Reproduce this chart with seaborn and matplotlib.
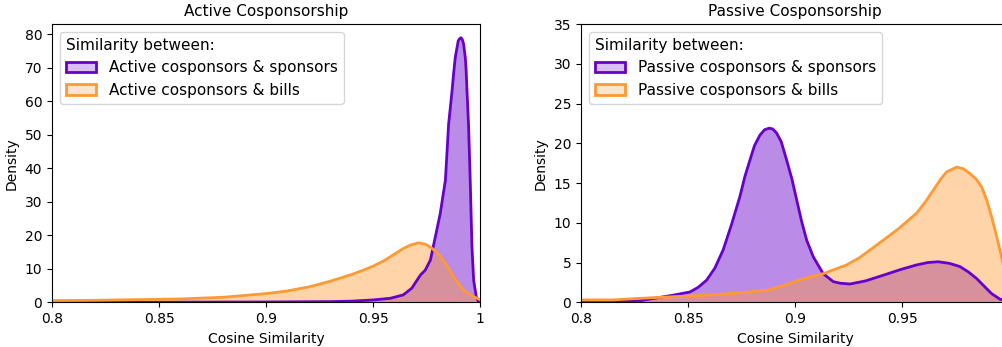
import matplotlib
matplotlib.use("Agg")
import matplotlib.pyplot as plt
from matplotlib.patches import Patch
import seaborn as sns

# ---- data ----
act_spons_x = [0.80, 0.85, 0.90, 0.93, 0.94, 0.95, 0.958, 0.964, 0.968, 0.972, 0.9743, 0.9767,
               0.979, 0.9813, 0.9837, 0.9852, 0.9868, 0.9875, 0.9883, 0.9897, 0.9903, 0.991,
               0.9916, 0.9922, 0.993, 0.9934, 0.9938, 0.9945, 0.9953, 0.9961, 0.9969, 0.9981, 0.999]
act_spons_y = [0.0, 0.05, 0.1, 0.2, 0.35, 0.7, 1.2, 2.2, 4.2, 8.1, 9.6, 12.6,
               19.5, 26.5, 36.4, 53.1, 63.0, 68.0, 73.0, 78.0, 78.6, 78.9,
               78.4, 77.0, 73.0, 69.0, 63.0, 53.0, 36.2, 16.6, 6.6, 1.7, 0.4]

act_bills_x = [0.80, 0.82, 0.84, 0.86, 0.88, 0.90, 0.91, 0.92, 0.93, 0.94, 0.945, 0.95, 0.955,
               0.958, 0.9642, 0.9675, 0.9712, 0.9745, 0.9774, 0.98, 0.9821, 0.985, 0.9875,
               0.990, 0.9922, 0.9945, 0.9969, 0.9992]
act_bills_y = [0.5, 0.6, 0.8, 1.0, 1.5, 2.6, 3.4, 4.6, 6.3, 8.3, 9.5, 10.8, 12.4,
               13.6, 16.1, 17.1, 17.75, 17.3, 16.1, 14.8, 13.1, 10.3, 7.6,
               5.4, 3.7, 2.6, 1.7, 1.0]

pas_spons_x = [0.80, 0.81, 0.82, 0.8275, 0.8431, 0.847, 0.8509, 0.8548, 0.8587, 0.8625, 0.8664,
               0.8703, 0.8742, 0.8765, 0.8789, 0.881, 0.8835, 0.8857, 0.8879, 0.8895, 0.8913,
               0.8935, 0.896, 0.8985, 0.9007, 0.903, 0.9054, 0.9085, 0.9131, 0.9178, 0.921,
               0.9256, 0.933, 0.9411, 0.949, 0.9567, 0.962, 0.9668, 0.972, 0.9769, 0.981,
               0.9847, 0.988, 0.9917, 0.9956, 1.0]
pas_spons_y = [0.05, 0.1, 0.15, 0.2, 0.9, 1.1, 1.3, 1.9, 2.8, 4.3, 6.6,
               9.8, 13.3, 15.8, 17.9, 19.7, 21.0, 21.7, 21.9, 21.8, 21.3,
               20.2, 17.9, 15.5, 12.9, 10.2, 7.8, 5.7, 3.6, 2.6, 2.4,
               2.3, 2.7, 3.4, 4.1, 4.7, 5.0, 5.1, 4.9, 4.5, 3.8,
               3.0, 2.1, 1.1, 0.4, 0.1]

pas_bills_x = [0.80, 0.815, 0.8275, 0.8431, 0.8587, 0.8742, 0.8867, 0.8944, 0.9022, 0.9069,
               0.9131, 0.924, 0.93, 0.9411, 0.948, 0.9567, 0.961, 0.9645, 0.968, 0.9707, 0.9754,
               0.9785, 0.9816, 0.9845, 0.9871, 0.9895, 0.9917, 0.9937, 0.9956, 0.998, 1.0]
pas_bills_y = [0.3, 0.3, 0.5, 0.7, 0.9, 1.2, 1.5, 2.1, 2.8, 3.2,
               3.6, 4.7, 5.6, 7.8, 9.2, 11.2, 12.7, 14.1, 15.5, 16.4, 17.0,
               16.8, 16.2, 15.5, 14.5, 12.8, 10.8, 8.7, 6.6, 3.8, 1.5]

titles = ["Active Cosponsorship", "Passive Cosponsorship"]
labels = [["Active cosponsors & sponsors", "Active cosponsors & bills"],
          ["Passive cosponsors & sponsors", "Passive cosponsors & bills"]]
legend_title = "Similarity between:"
x_ticks = [0.8, 0.85, 0.9, 0.95, 1.0]
x_ticklabels = [["0.8", "0.85", "0.9", "0.95", "1"], ["0.8", "0.85", "0.9", "0.95", ""]]
y_ticks = [[0, 10, 20, 30, 40, 50, 60, 70, 80], [0, 5, 10, 15, 20, 25, 30, 35]]
y_lims = [(0, 83), (0, 35)]

PURPLE = "#6600cc"
ORANGE = "#ff9933"

plt.rcParams["font.family"] = ["DejaVu Sans"]

fig = plt.figure(figsize=(10.03, 3.47), dpi=100)
W, H = 1003, 347
ax1 = fig.add_axes([52 / W, (H - 302.3) / H, 428.3 / W, 278.3 / H])
ax2 = fig.add_axes([581 / W, (H - 302.3) / H, 428.3 / W, 278.3 / H])

series = [((act_spons_x, act_spons_y), (act_bills_x, act_bills_y)),
          ((pas_spons_x, pas_spons_y), (pas_bills_x, pas_bills_y))]

for i, ax in enumerate([ax1, ax2]):
    (sx, sy), (bx, by) = series[i]
    ax.fill_between(sx, sy, 0, color=PURPLE, alpha=0.45, linewidth=0)
    sns.lineplot(x=sx, y=sy, ax=ax, color=PURPLE, linewidth=2, sort=False)
    ax.fill_between(bx, by, 0, color=ORANGE, alpha=0.42, linewidth=0)
    sns.lineplot(x=bx, y=by, ax=ax, color=ORANGE, linewidth=2, sort=False)
    ax.set_xlim(0.8, 1.0)
    ax.set_ylim(*y_lims[i])
    ax.set_xticks(x_ticks)
    ax.set_xticklabels(x_ticklabels[i])
    ax.set_yticks(y_ticks[i])
    ax.tick_params(labelsize=10)
    ax.set_xlabel("Cosine Similarity", fontsize=10)
    ax.set_ylabel("Density", fontsize=10)
    ax.set_title(titles[i], fontsize=11)
    handles = [Patch(facecolor=(0.4, 0.0, 0.8, 0.25), edgecolor=PURPLE, linewidth=2, label=labels[i][0]),
               Patch(facecolor=(1.0, 0.6, 0.2, 0.25), edgecolor=ORANGE, linewidth=2, label=labels[i][1])]
    ax.legend(handles=handles, title=legend_title, loc="upper left", fontsize=11,
              title_fontsize=11, alignment="left")

fig.savefig("out.png", dpi=100)
